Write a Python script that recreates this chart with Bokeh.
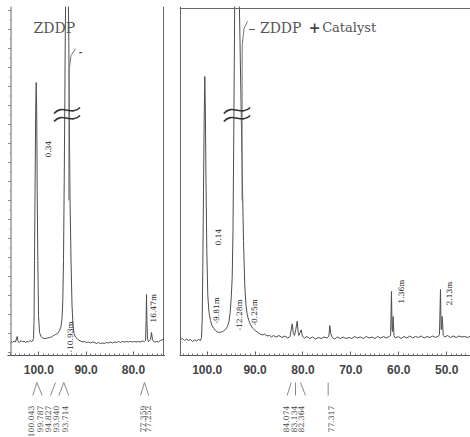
import numpy as np
from bokeh.plotting import figure
from bokeh.models import Range1d, FixedTicker, Span
from bokeh.layouts import row, column
from bokeh.core.properties import value
from bokeh.embed import file_html
from bokeh.resources import INLINE

# ---------------- data ----------------
# ZDDP spectrum (chemical shift ppm, intensity a.u.)
zddp_ppm = [105.88, 105.56, 105.24, 104.93, 104.57, 104.40, 104.08, 103.76, 103.45, 103.13,
            102.81, 102.49, 102.18, 101.86, 101.54, 101.33, 101.12, 101.01, 100.91, 100.78,
            100.66, 100.55, 100.44, 100.34, 100.21, 100.06, 99.85, 99.53, 99.22, 98.90,
            98.58, 98.16, 97.74, 97.32, 96.89, 96.47, 96.05, 95.62, 95.31, 95.10,
            94.93, 94.78, 94.63, 94.50, 94.40, 94.31, 94.04, 93.76, 93.66, 93.55,
            93.40, 93.19, 92.98, 92.77, 92.56, 92.24, 91.92, 91.61, 91.18, 90.76,
            90.34, 89.92, 89.49, 89.07, 88.65, 88.22, 87.80, 87.38, 86.96, 86.53,
            86.11, 85.69, 85.26, 84.84, 84.42, 84.00, 83.57, 83.15, 82.73, 82.31,
            81.88, 81.46, 81.04, 80.61, 80.19, 79.77, 79.35, 78.92, 78.50, 78.08,
            77.65, 77.44, 77.32, 77.23, 77.15, 77.02, 76.81, 76.60, 76.39, 76.18,
            75.97, 75.75, 75.54, 75.12, 74.70, 74.27, 73.74, 73.50]
zddp_int = [0, -1, 0.5, -0.5, 5, 0, -1, 1, -0.5, 0.5,
            -1, 0, -0.5, 1, 0, 0.5, 3, 21, 81, 161,
            231, 259, 226, 151, 81, 26, 9, 5, 3.5, 3,
            3, 3.5, 4, 4.5, 6, 7, 8, 11, 15, 23,
            41, 81, 161, 241, 311, 346, 420, 346, 301, 221,
            141, 81, 36, 16, 8, 4.5, 3, 1.5, 0.5, -0.5,
            0, -1, -0.5, -1.5, -0.5, -1, -2, -1, -2, -1.5,
            -2, -1, -1.5, -0.5, -1.5, -0.5, -1, 0, -1, 0,
            -0.5, 0, -0.5, 0, -0.5, 0, -0.5, 0, -0.5, 0.5,
            0, 1, 21, 47, 21, 3, 0, 1, 2, 9,
            2, 0, -0.5, 0, -0.5, 1, 2, 2.5]

# ZDDP + Catalyst spectrum
cat_ppm = [105.57, 105.16, 104.74, 104.32, 103.90, 103.49, 103.07, 102.65, 102.23, 101.82,
           101.40, 101.19, 101.04, 100.92, 100.77, 100.63, 100.50, 100.38, 100.25, 100.08,
           99.87, 99.62, 99.31, 99.00, 98.62, 98.27, 97.85, 97.43, 97.01, 96.60,
           96.18, 95.76, 95.45, 95.20, 94.99, 94.78, 94.61, 94.47, 94.34, 94.24,
           93.78, 93.32, 93.15, 92.94, 92.69, 92.42, 92.15, 91.90, 91.65, 91.31,
           90.96, 90.54, 90.12, 89.56, 89.08, 88.45, 88.04, 87.47, 86.99, 86.57,
           86.16, 85.6, 85.0, 84.4, 83.8, 83.2, 82.7, 82.25, 82.0, 81.77,
           81.5, 81.21, 81.0, 80.87, 80.6, 80.37, 80.1, 79.7, 79.2, 78.6,
           78.0, 77.4, 76.8, 76.2, 75.6, 75.0, 74.6, 74.4, 74.2, 73.9,
           73.4, 72.8, 72.2, 71.6, 71.0, 70.4, 69.8, 69.2, 68.6, 68.0,
           67.4, 66.8, 66.2, 65.6, 65.0, 64.4, 63.8, 63.2, 62.6, 62.0,
           61.7, 61.52, 61.4, 61.3, 61.17, 61.0, 60.7, 60.1, 59.5, 58.9,
           58.3, 57.7, 57.1, 56.5, 55.9, 55.3, 54.7, 54.1, 53.5, 52.9,
           52.3, 51.7, 51.5, 51.29, 51.15, 51.05, 50.93, 50.7, 50.4, 49.8,
           49.2, 48.6, 48.0, 47.4, 46.8, 46.2, 45.6, 45.0]
cat_int = [2, 3, 1, 2.5, 1, 2, 0, 1.5, 0.5, 2,
           1, 4, 21, 71, 151, 221, 265, 231, 161, 91,
           46, 29, 21, 16, 13, 11, 9.5, 9, 9.5, 10.5,
           12, 15, 20, 29, 43, 63, 111, 191, 281, 346,
           420, 346, 301, 241, 171, 101, 56, 36, 27, 21,
           17, 13.5, 11.5, 9.5, 8, 6.5, 7.5, 5.5, 6, 4.5,
           6, 4.5, 6, 4, 5.5, 3.5, 5, 17.7, 8, 6,
           12, 20.3, 9, 6, 9, 11.7, 5, 3.5, 5, 3,
           4.5, 2.5, 4, 3, 4.5, 3.5, 5, 16, 8, 4,
           2.5, 4.5, 3, 4.5, 3, 4, 3, 5, 3.5, 4.5,
           3, 5, 3.5, 4.5, 3, 5, 3.5, 5, 3.5, 5,
           6, 50, 12, 10, 25, 6, 3.5, 5, 3, 5,
           3.5, 5.5, 3.5, 5, 4, 5.5, 3.5, 5, 4, 5.5,
           4, 5.5, 7, 52, 12, 12, 25, 6, 4.5, 6,
           4, 5.5, 4, 5.5, 4.5, 5, 4, 5.5]

# integral traces near the truncated main peak
zddp_integral_ppm = [93.66, 93.61, 93.19, 92.24]
zddp_integral_int = [141, 271, 286, 293]
cat_integral_ppm = [92.73, 92.69, 92.31, 91.58]
cat_integral_int = [141, 296, 313, 320]

# in-plot peak annotations
zddp_ann_text = ["0.34", "-10.93m", "16.47m"]
zddp_ann_ppm = [98.06, 93.30, 75.75]
zddp_ann_int = [184, -11, 19]
cat_ann_text = ["0.14", "-9.81m", "-12.28m", "-0.25m", "1.36m", "2.13m"]
cat_ann_ppm = [97.74, 98.10, 93.26, 90.02, 59.47, 49.41]
cat_ann_int = [96, 18, 11, 16, 38, 36]

# peak lists below the axes
zddp_list = ["100.043", "99.787", "94.827", "93.940", "93.714", "77.359", "77.252"]
zddp_list_pos = [101.59, 99.85, 98.10, 96.34, 94.57, 78.08, 76.98]
zddp_conn_top = [100.42, 100.42, 96.47, 94.72, 94.72, 77.66, 77.66]
zddp_conn_bot = [101.27, 99.28, 97.53, 95.77, 93.66, 78.50, 76.75]
cat_list = ["84.074", "83.134", "82.364", "77.317"]
cat_list_pos = [83.48, 81.94, 80.35, 74.21]
cat_conn_top = [82.46, 81.56, 80.52, 74.74]
cat_conn_bot = [83.30, 81.56, 79.48, 74.74]

zddp_ticks = [100.0, 90.0, 80.0]
cat_ticks = [100.0, 90.0, 80.0, 70.0, 60.0, 50.0]
tick_labels = {100.0: "100.0", 90.0: "90.0", 80.0: "80.0", 70.0: "70.0", 60.0: "60.0", 50.0: "50.0"}

# ---------------- styling / layout ----------------
LINE = "#4d4d4d"
TXT = "#444444"
SERIF = value("DejaVu Serif")
Y0, Y1 = -14, 335          # frame: page y 6 .. 355
TOP_H, BOT_H = 380, 57
WL, WR = 165, 305
BL_L, BL_R = 7, 14
minor_x = [float(v) for v in np.arange(40, 110, 1.0)]


def style_xaxis(p, ticks):
    ax = p.xaxis[0]
    ax.ticker = FixedTicker(ticks=ticks, minor_ticks=minor_x)
    ax.major_label_overrides = {t: tick_labels[t] for t in ticks}
    ax.major_label_text_font = "Liberation Sans"
    ax.major_label_text_font_style = "bold"
    ax.major_label_text_font_size = "12px"
    ax.major_label_text_color = TXT
    ax.axis_line_color = "#555555"
    ax.major_tick_line_color = "#555555"
    ax.minor_tick_line_color = "#777777"
    ax.major_tick_in = 4
    ax.major_tick_out = 0
    ax.minor_tick_in = 2
    ax.minor_tick_out = 0
    ax.major_label_standoff = 9


def top_fig(xr, width, border_left):
    p = figure(width=width, height=TOP_H, x_range=xr, y_range=Range1d(Y0, Y1),
               output_backend="svg", toolbar_location=None,
               min_border_left=border_left, min_border_right=0,
               min_border_top=6, min_border_bottom=25)
    p.outline_line_color = None
    p.grid.visible = False
    p.yaxis.visible = False
    return p


def bottom_fig(xr, width, border_left):
    p = figure(width=width, height=BOT_H, x_range=xr, y_range=Range1d(0, BOT_H),
               output_backend="svg", toolbar_location=None,
               min_border_left=border_left, min_border_right=0,
               min_border_top=0, min_border_bottom=0)
    p.outline_line_color = None
    p.grid.visible = False
    p.axis.visible = False
    return p


def break_mark(p, c, level):
    # decorative "axis break" squiggles on the truncated main peak
    dx = 2.75
    for dy in (4, -4):
        p.bezier(x0=[c + dx], y0=[level + dy - 3], x1=[c - dx], y1=[level + dy + 3],
                 cx0=[c + 1.0], cy0=[level + dy + 7], cx1=[c - 1.0], cy1=[level + dy - 6],
                 line_color="#333333", line_width=1.6)


def peak_list(b, labels, pos, ctop, cbot):
    b.segment(x0=ctop, y0=[55] * len(ctop), x1=cbot, y1=[42] * len(cbot),
              line_color="#888888", line_width=1)
    b.text(x=pos, y=[32] * len(pos), text=labels, angle=np.pi / 2,
           text_align="right", text_baseline="middle", text_font=SERIF,
           text_font_size="7.7px", text_color=TXT)


def annotate(p, xs, ys, labels):
    p.text(x=xs, y=ys, text=labels, angle=np.pi / 2,
           text_align="left", text_baseline="middle", text_font=SERIF,
           text_font_size="7.5px", text_color="#222222")


# ---- left panel: ZDDP ----
xr_l = Range1d(106.62, 73.22)
p1 = top_fig(xr_l, WL, BL_L)
style_xaxis(p1, zddp_ticks)
AX_L = 105.88      # left border of the spectrum box
TICK_X = 106.55    # outer end of the left-axis ticks
p1.add_layout(Span(location=AX_L, dimension="height", line_color="#666666", line_width=1))
p1.add_layout(Span(location=73.64, dimension="height", line_color="#666666", line_width=1))
ymaj = list(range(-11, 335, 19))
ymin = [v + 9.5 for v in ymaj]
p1.segment(x0=[TICK_X] * len(ymaj), y0=ymaj, x1=[AX_L] * len(ymaj), y1=ymaj,
           line_color="#888888", line_width=1)
p1.segment(x0=[106.2] * len(ymin), y0=ymin, x1=[AX_L] * len(ymin), y1=ymin,
           line_color="#aaaaaa", line_width=1)

p1.line(zddp_ppm, zddp_int, line_color=LINE, line_width=1)
p1.line(zddp_integral_ppm, zddp_integral_int, line_color="#777777", line_width=1)
break_mark(p1, 94.04, 227)
p1.text(x=[101.12], y=[314], text=["ZDDP"], text_font=SERIF,
        text_font_size="14px", text_color="#555555", text_baseline="alphabetic")
p1.text(x=[91.55], y=[290], text=["-"], text_font=SERIF, text_font_size="9px",
        text_font_style="bold", text_color=TXT, text_baseline="middle")
annotate(p1, zddp_ann_ppm, zddp_ann_int, zddp_ann_text)

b1 = bottom_fig(xr_l, WL, BL_L)
peak_list(b1, zddp_list, zddp_list_pos, zddp_conn_top, zddp_conn_bot)

# ---- right panel: ZDDP + Catalyst ----
xr_r = Range1d(105.78, 45.02)
p2 = top_fig(xr_r, WR, BL_R)
style_xaxis(p2, cat_ticks)
p2.add_layout(Span(location=105.57, dimension="height", line_color="#666666", line_width=1))
p2.add_layout(Span(location=333, dimension="width", line_color="#666666", line_width=1))

p2.line(cat_ppm, cat_int, line_color=LINE, line_width=1)
p2.line(cat_integral_ppm, cat_integral_int, line_color="#777777", line_width=1)
break_mark(p2, 93.78, 227)
p2.text(x=[91.38], y=[314], text=["\u2013 ZDDP"], text_font=SERIF,
        text_font_size="14px", text_color="#555555", text_baseline="alphabetic")
p2.text(x=[78.79], y=[314], text=["+"], text_font=SERIF, text_font_size="14px",
        text_font_style="bold", text_color="#444444", text_baseline="alphabetic")
p2.text(x=[75.99], y=[314], text=["Catalyst"], text_font=SERIF,
        text_font_size="13px", text_color="#555555", text_baseline="alphabetic")
annotate(p2, cat_ann_ppm, cat_ann_int, cat_ann_text)

b2 = bottom_fig(xr_r, WR, BL_R)
peak_list(b2, cat_list, cat_list_pos, cat_conn_top, cat_conn_bot)

layout = row(column(p1, b1), column(p2, b2))
open("out.html", "w").write(file_html(layout, INLINE))
